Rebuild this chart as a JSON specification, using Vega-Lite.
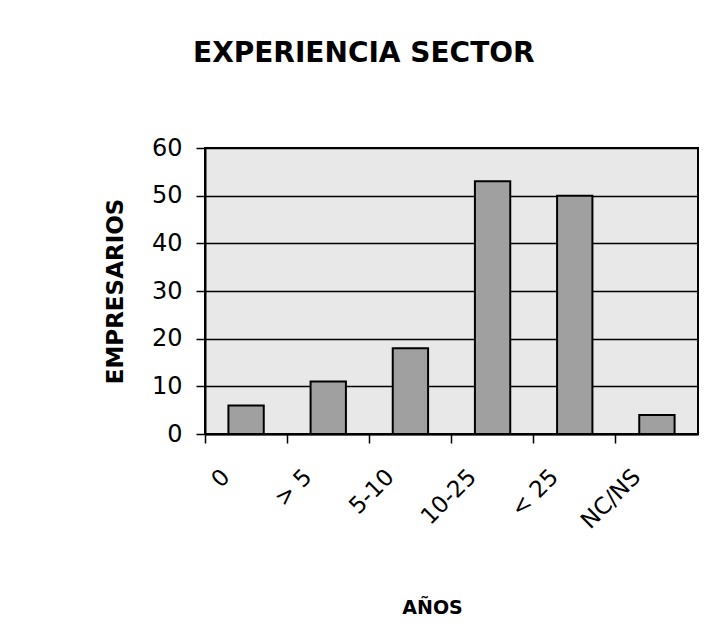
{
  "$schema": "https://vega.github.io/schema/vega-lite/v6.json",
  "width": 493,
  "height": 286,
  "autosize": {"type": "none"},
  "padding": {"left": 205, "top": 148, "right": 10, "bottom": 205},
  "background": "white",
  "title": {
    "text": "EXPERIENCIA SECTOR",
    "anchor": "start",
    "frame": "group",
    "dx": -12,
    "offset": 68,
    "font": "DejaVu Sans",
    "fontSize": 28,
    "fontWeight": "bold",
    "color": "black"
  },
  "data": {
    "values": [
      {"anos": "0", "empresarios": 6},
      {"anos": "> 5", "empresarios": 11},
      {"anos": "5-10", "empresarios": 18},
      {"anos": "10-25", "empresarios": 53},
      {"anos": "< 25", "empresarios": 50},
      {"anos": "NC/NS", "empresarios": 4}
    ]
  },
  "mark": {
    "type": "bar",
    "width": {"band": 0.43},
    "fill": "#a0a0a0",
    "stroke": "black",
    "strokeWidth": 2
  },
  "encoding": {
    "x": {
      "field": "anos",
      "type": "nominal",
      "sort": null,
      "scale": {"paddingInner": 0, "paddingOuter": 0},
      "axis": {
        "bandPosition": 0,
        "labelAngle": -45,
        "labelAlign": "right",
        "labelBaseline": "middle",
        "labelOffset": -20,
        "labelPadding": 30,
        "labelFont": "DejaVu Sans",
        "labelFontSize": 23,
        "labelColor": "black",
        "domainColor": "black",
        "domainWidth": 2,
        "tickColor": "black",
        "tickSize": 9,
        "tickWidth": 1.5,
        "grid": false,
        "title": "AÑOS",
        "titleFont": "DejaVu Sans",
        "titleFontSize": 19,
        "titleFontWeight": "bold",
        "titleColor": "black",
        "titleX": 227,
        "titleY": 179,
        "titleBaseline": "alphabetic",
        "titleAlign": "center"
      }
    },
    "y": {
      "field": "empresarios",
      "type": "quantitative",
      "scale": {"domain": [0, 60], "nice": false},
      "axis": {
        "values": [0, 10, 20, 30, 40, 50, 60],
        "grid": true,
        "gridColor": "black",
        "gridWidth": 1.5,
        "gridOpacity": 1,
        "domainColor": "black",
        "domainWidth": 2,
        "tickColor": "black",
        "tickSize": 9,
        "tickWidth": 1.5,
        "labelFont": "DejaVu Sans",
        "labelFontSize": 24,
        "labelColor": "black",
        "labelPadding": 14,
        "title": "EMPRESARIOS",
        "titleFont": "DejaVu Sans",
        "titleFontSize": 23,
        "titleFontWeight": "bold",
        "titleColor": "black",
        "titlePadding": 24
      }
    }
  },
  "config": {
    "view": {"fill": "#e8e8e8", "stroke": "black", "strokeWidth": 2}
  }
}
